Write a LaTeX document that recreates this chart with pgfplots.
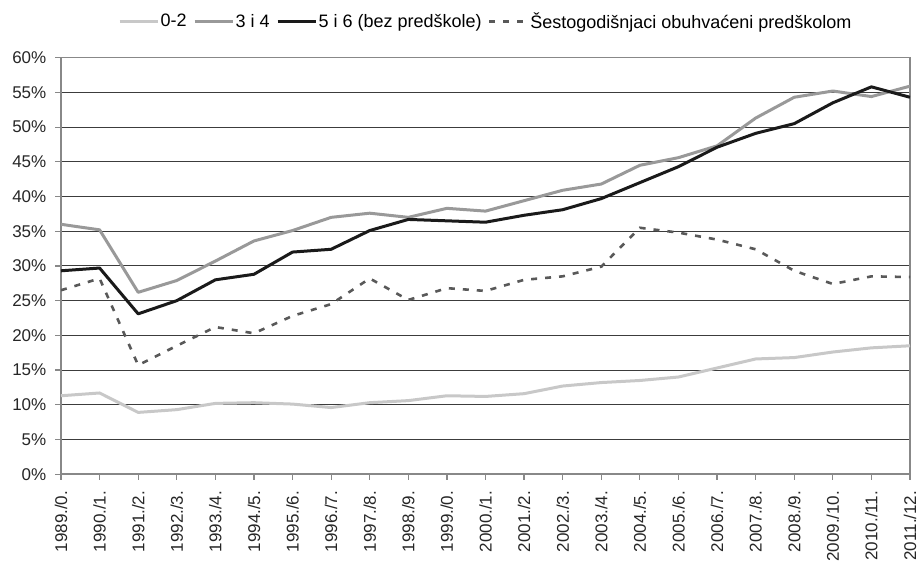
\documentclass[border=0pt]{standalone}
\usepackage{pgfplots}
\pgfplotsset{compat=1.18}
\usepackage{fontspec}
\setmainfont{Liberation Sans}
\definecolor{cA}{HTML}{C8C8C8}
\definecolor{cB}{HTML}{999999}
\definecolor{cC}{HTML}{1A1A1A}
\definecolor{cD}{HTML}{595959}
\definecolor{gridc}{HTML}{3C3C3C}
\definecolor{axc}{HTML}{888888}
\pgfplotstableread{
x a b c d
0 11.3 36.0 29.3 26.5
1 11.7 35.2 29.7 28.2
2 8.9 26.2 23.1 15.7
3 9.3 27.9 25.0 18.5
4 10.2 30.7 28.0 21.2
5 10.3 33.6 28.8 20.3
6 10.1 35.1 32.0 22.8
7 9.6 37.0 32.4 24.5
8 10.3 37.6 35.1 28.2
9 10.6 37.0 36.7 25.1
10 11.3 38.3 36.5 26.8
11 11.2 37.9 36.3 26.4
12 11.6 39.4 37.3 28.0
13 12.7 40.9 38.1 28.5
14 13.2 41.8 39.7 29.9
15 13.5 44.5 42.0 35.5
16 14.0 45.6 44.3 34.8
17 15.3 47.3 47.1 33.8
18 16.6 51.3 49.1 32.4
19 16.8 54.3 50.5 29.3
20 17.6 55.2 53.5 27.4
21 18.2 54.4 55.8 28.5
22 18.5 55.9 54.3 28.4
}\data
\begin{document}
\begin{tikzpicture}
\begin{axis}[
  name=a,
  scale only axis,
  width=849pt, height=416.5pt,
  xmin=0, xmax=22, ymin=0, ymax=60,
  xtick={0,...,22},
  xticklabels={1989./0.,1990./1.,1991./2.,1992./3.,1993./4.,1994./5.,1995./6.,1996./7.,1997./8.,1998./9.,1999./0.,2000./1.,2001./2.,2002./3.,2003./4.,2004./5.,2005./6.,2006./7.,2007./8.,2008./9.,2009./10.,2010./11.,2011./12.},
  ytick={0,5,...,60},
  yticklabel={\pgfmathprintnumber{\tick}\%},
  /pgf/number format/assume math mode=true,
  ticklabel style={font=\fontsize{17}{20}\selectfont, text=black!85},
  xticklabel style={rotate=90, anchor=east, inner sep=0pt},
  yticklabel style={anchor=east, inner sep=0pt},
  xticklabel shift=11pt,
  yticklabel shift=9pt,
  tick align=outside,
  tick pos=left,
  major tick length=5.5pt,
  tick style={color=axc, line width=1.2pt},
  axis line style={color=axc, line width=1.4pt},
  ymajorgrids,
  major grid style={color=gridc, line width=0.9pt},
  legend style={at={(0.5,1)}, anchor=south, yshift=26pt, draw=none, fill=none,
    font=\fontsize{18}{21}\selectfont, inner sep=0pt,
    /tikz/every even column/.append style={column sep=5pt}},
  legend columns=-1,
  legend cell align=left,
  legend image code/.code={\draw[#1] (0pt,0pt) -- (38pt,0pt);},
  every axis legend/.append style={nodes={inner sep=1.5pt}},
]
\addplot[cA, line width=3pt, line join=round] table[x=x,y=a]{\data};
\addlegendentry{0-2}
\addplot[cB, line width=3pt, line join=round] table[x=x,y=b]{\data};
\addlegendentry{3 i 4}
\addplot[cC, line width=3pt, line join=round] table[x=x,y=c]{\data};
\addlegendentry{5 i 6 (bez predškole)}
\addplot[cD, line width=2.6pt, dash pattern=on 6pt off 8pt] table[x=x,y=d]{\data};
\addlegendentry{Šestogodišnjaci obuhvaćeni predškolom}
\end{axis}
\path ([shift={(-61pt,-87pt)}]a.south west) rectangle ([shift={(8pt,57.7pt)}]a.north east);
\end{tikzpicture}
\end{document}
